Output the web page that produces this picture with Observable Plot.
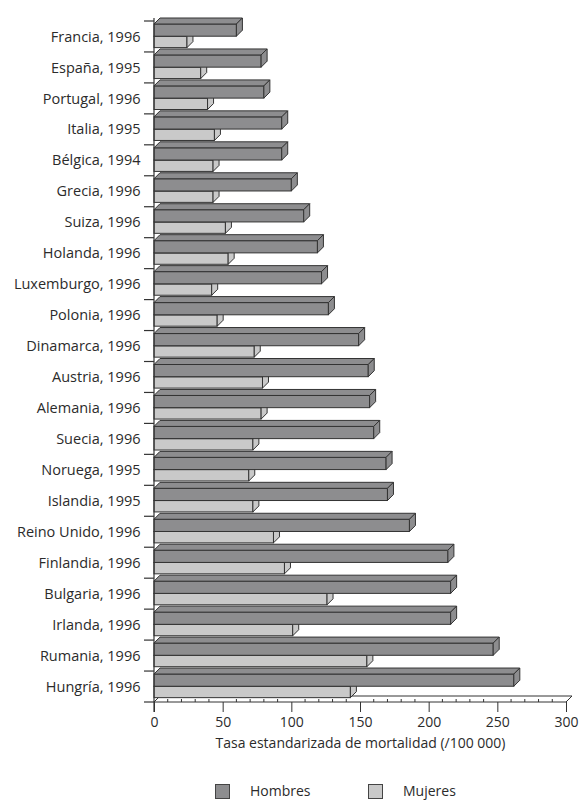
<!DOCTYPE html>
<html>
<head>
<meta charset="utf-8">
<script src="https://cdn.jsdelivr.net/npm/d3@7"></script>
<script src="https://cdn.jsdelivr.net/npm/@observablehq/plot@0.6"></script>
<style>
  html, body { margin: 0; padding: 0; background: #fff; }
  #wrap { width: 580px; font-family: "Open Sans", sans-serif; color: #2b2b2b; }
  #legend { position: relative; height: 30px; font-size: 14px; }
  #legend .sw { position: absolute; width: 15px; height: 15px; border: 1px solid #444; box-sizing: border-box; }
  #legend .lb { position: absolute; line-height: 16px; }
</style>
</head>
<body>
<div id="wrap"></div>
<script>
const paises = ["Francia, 1996","España, 1995","Portugal, 1996","Italia, 1995","Bélgica, 1994","Grecia, 1996","Suiza, 1996","Holanda, 1996","Luxemburgo, 1996","Polonia, 1996","Dinamarca, 1996","Austria, 1996","Alemania, 1996","Suecia, 1996","Noruega, 1995","Islandia, 1995","Reino Unido, 1996","Finlandia, 1996","Bulgaria, 1996","Irlanda, 1996","Rumania, 1996","Hungría, 1996"];
const hombres = [60,78,80,93,93,100,109,119,122,127,149,156,157,160,169,170,186,214,216,216,247,262];
const mujeres = [24,34,39,44,43,43,52,54,42,46,73,79,78,72,69,72,87,95,126,101,155,143];
const xTicks = [0,50,100,150,200,250,300];
const series = ["Hombres","Mujeres"];
const colores = ["#8d8d8f","#c9c9c9"];
const xLabel = "Tasa estandarizada de mortalidad (/100 000)";

const data = paises.map((p,i) => ({pais: p, Hombres: hombres[i], Mujeres: mujeres[i]}));

const W = 580, H = 770;
const MT = 21, YB = 702;
const BW = (YB - MT) / paises.length;
const D = 6;            // depth of the 3D effect (px)
const TOP = 3, MID = 15.2, BOT = 26.6; // bar edges within band (px)
const INK = "#333";

function faces(key, yTop, yBot, fill) {
  return (index, scales, values, dim) => {
    const g = d3.create("svg:g").attr("fill", fill).attr("stroke", INK).attr("stroke-width", 1).attr("stroke-linejoin", "round");
    const x0 = scales.x(0);
    for (const d of data) {
      const y0 = scales.y(d.pais);
      const x1 = scales.x(d[key]);
      const yt = y0 + yTop, yb = y0 + yBot;
      g.append("path").attr("d", `M${x0},${yt}L${x0+D},${yt-D}L${x1+D},${yt-D}L${x1},${yt}Z`);
      g.append("path").attr("d", `M${x1},${yt}L${x1+D},${yt-D}L${x1+D},${yb-D}L${x1},${yb}Z`);
    }
    return g.node();
  };
}

function floorMark(index, scales, values, dim) {
  const g = d3.create("svg:g").attr("stroke", INK).attr("stroke-width", 1);
  const xa = scales.x(xTicks[0]), xb = scales.x(xTicks[xTicks.length-1]);
  const yb = dim.height - dim.marginBottom;
  g.append("path").attr("fill", "#fff").attr("d", `M${xa},${yb}L${xa+D},${yb-D}L${xb+D},${yb-D}L${xb},${yb}Z`);
  for (const v of d3.range(10, 300, 10)) {
    if (v % 50 === 0) continue;
    const x = scales.x(v);
    g.append("line").attr("x1", x).attr("x2", x).attr("y1", yb).attr("y2", yb - 3);
  }
  return g.node();
}

function yAxisMark(index, scales, values, dim) {
  const g = d3.create("svg:g").attr("stroke", INK).attr("stroke-width", 1.2);
  const x0 = scales.x(0);
  const yb = dim.height - dim.marginBottom;
  g.append("line").attr("x1", x0).attr("x2", x0).attr("y1", scales.y(paises[0]) + TOP - D).attr("y2", yb + 10);
  const ys = paises.map(p => scales.y(p)).concat([scales.y(paises[paises.length-1]) + BW]);
  for (const y of ys) {
    g.append("line").attr("x1", x0 - 10).attr("x2", x0).attr("y1", y).attr("y2", y);
  }
  return g.node();
}

const chart = Plot.plot({
  width: W, height: H,
  marginLeft: 154, marginRight: 14, marginTop: MT, marginBottom: H - YB,
  style: {fontFamily: "'Open Sans', sans-serif", fontSize: "14px", color: "#2b2b2b", background: "#fff"},
  x: {domain: [0, 300]},
  y: {domain: paises, padding: 0, round: false},
  marks: [
    floorMark,
    Plot.barX(data, {x: "Mujeres", y: "pais", fill: colores[1], stroke: INK, strokeWidth: 1, insetTop: MID, insetBottom: BW - BOT}),
    faces("Mujeres", MID, BOT, colores[1]),
    Plot.barX(data, {x: "Hombres", y: "pais", fill: colores[0], stroke: INK, strokeWidth: 1, insetTop: TOP, insetBottom: BW - MID}),
    faces("Hombres", TOP, MID, colores[0]),
    yAxisMark,
    Plot.axisX({ticks: xTicks, tickSize: 10, tickPadding: 5, label: null, fontSize: 14, stroke: INK}),
    Plot.axisY({tickSize: 0, tickPadding: 14, label: null, fontSize: 14.5}),
    Plot.text([xLabel], {frameAnchor: "bottom", dy: 45, fontSize: 14, fill: "#2b2b2b"})
  ]
});

const wrap = document.getElementById("wrap");
wrap.appendChild(chart);
const legend = document.createElement("div");
legend.id = "legend";
const pos = [[215, 250], [368, 403]];
series.forEach((s, i) => {
  const sw = document.createElement("div");
  sw.className = "sw"; sw.style.left = pos[i][0] + "px"; sw.style.top = "14px"; sw.style.background = colores[i];
  const lb = document.createElement("div");
  lb.className = "lb"; lb.style.left = pos[i][1] + "px"; lb.style.top = "13px"; lb.textContent = s;
  legend.appendChild(sw); legend.appendChild(lb);
});
wrap.appendChild(legend);
</script>
</body>
</html>
